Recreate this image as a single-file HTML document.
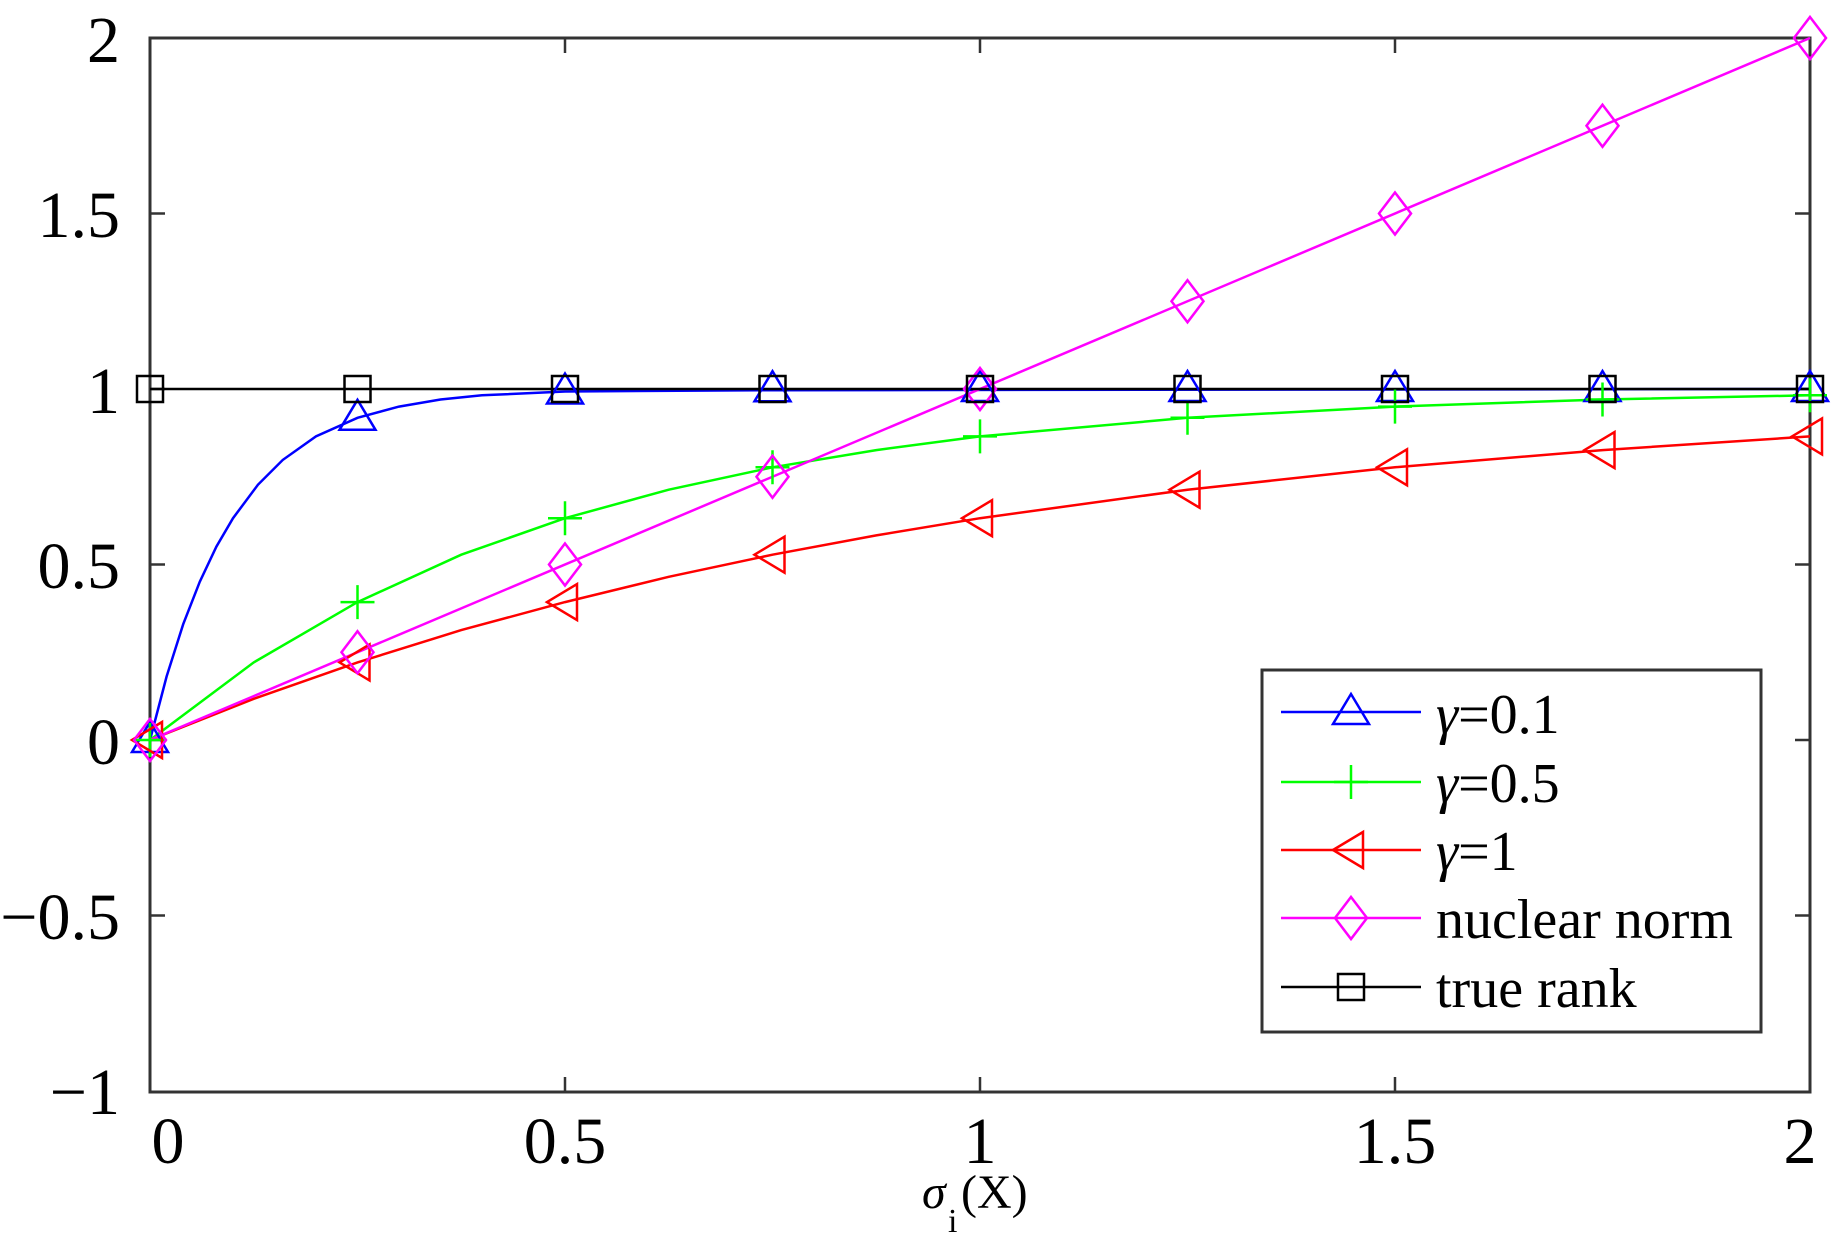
<!DOCTYPE html>
<html><head><meta charset="utf-8"><style>
html,body{margin:0;padding:0;background:#fff;}
svg{display:block;}
text{font-family:"Liberation Serif",serif;fill:#000;}
</style></head><body>
<svg width="1847" height="1252" viewBox="0 0 1847 1252" xmlns="http://www.w3.org/2000/svg">
<defs>
<g id="tri"><polygon points="0,-18 -18,12 18,12" fill="none" stroke="#0000ff" stroke-width="2.5"/></g>
<g id="ltri"><polygon points="-18,0 12,-18 12,18" fill="none" stroke="#ff0000" stroke-width="2.5"/></g>
<g id="dia"><polygon points="0,-21 16,0 0,21 -16,0" fill="none" stroke="#ff00ff" stroke-width="2.5"/></g>
<g id="sq"><rect x="-13" y="-13" width="26" height="26" fill="none" stroke="#000" stroke-width="2.5"/></g>
<g id="pl"><path d="M-17,0H17M0,-17V17" stroke="#00ff00" stroke-width="2.5"/></g>
</defs>
<!-- axes box -->
<rect x="150" y="38" width="1660" height="1054" fill="none" stroke="#333" stroke-width="3"/>
<g stroke="#333" stroke-width="2.5">
<path d="M565,1092v-15M980,1092v-15M1395,1092v-15M565,38v15M980,38v15M1395,38v15"/>
<path d="M150,213.5h15M150,389h15M150,564.5h15M150,740h15M150,915.5h15M1810,213.5h-15M1810,389h-15M1810,564.5h-15M1810,740h-15M1810,915.5h-15"/>
</g>
<!-- y labels -->
<g font-size="66" text-anchor="end">
<text x="120" y="62">2</text>
<text x="120" y="237">1.5</text>
<text x="120" y="413">1</text>
<text x="120" y="588">0.5</text>
<text x="120" y="764">0</text>
<text x="120" y="939">−0.5</text>
<text x="120" y="1114">−1</text>
</g>
<g font-size="66" text-anchor="middle">
<text x="168" y="1163">0</text>
<text x="565" y="1163">0.5</text>
<text x="980" y="1163">1</text>
<text x="1395" y="1163">1.5</text>
<text x="1800" y="1163">2</text>
</g>
<text x="922" y="1208" font-size="48" font-style="italic">σ</text>
<text x="948" y="1232" font-size="34">i</text>
<text x="961" y="1208" font-size="48">(X)</text>
<!-- series -->
<polyline fill="none" stroke="#0000ff" stroke-width="2.5" points="150,740 166.6,676.5 183.2,624.2 199.8,581.7 216.4,546.6 233,518.2 257.9,484.8 282.8,459.9 316,436.4 357.5,417.8 399,406.6 440.5,399.5 482,395.3 565,391.5 772.5,390.2 1810,389"/>
<polyline fill="none" stroke="#00ff00" stroke-width="2.5" points="150,740 253.75,662.4 357.5,602.1 461.25,554.7 565,518.2 668.75,489.7 772.5,467.3 876.25,450.1 980,436.4 1187.5,417.8 1395,406.6 1602.5,399.5 1810,395.3"/>
<polyline fill="none" stroke="#ff0000" stroke-width="2.5" points="150,740 253.75,698.8 357.5,662.4 461.25,630.1 565,602.1 668.75,576.8 772.5,554.7 876.25,535.4 980,518.2 1187.5,489.7 1395,467.3 1602.5,450.1 1810,436.4"/>
<polyline fill="none" stroke="#ff00ff" stroke-width="2.5" points="150,740 1810,38"/>
<polyline fill="none" stroke="#000" stroke-width="2.5" points="150,389 1810,389"/>
<use href="#tri" x="150" y="740"/><use href="#tri" x="357.5" y="417.8"/><use href="#tri" x="565" y="391.5"/><use href="#tri" x="772.5" y="389.2"/><use href="#tri" x="980" y="389"/><use href="#tri" x="1187.5" y="389"/><use href="#tri" x="1395" y="389"/><use href="#tri" x="1602.5" y="389"/><use href="#tri" x="1810" y="389"/>
<use href="#pl" x="150" y="740"/><use href="#pl" x="357.5" y="602.1"/><use href="#pl" x="565" y="518.2"/><use href="#pl" x="772.5" y="467.3"/><use href="#pl" x="980" y="436.4"/><use href="#pl" x="1187.5" y="417.8"/><use href="#pl" x="1395" y="406.6"/><use href="#pl" x="1602.5" y="399.5"/><use href="#pl" x="1810" y="395.3"/>
<use href="#ltri" x="150" y="740"/><use href="#ltri" x="357.5" y="662.4"/><use href="#ltri" x="565" y="602.1"/><use href="#ltri" x="772.5" y="554.7"/><use href="#ltri" x="980" y="518.2"/><use href="#ltri" x="1187.5" y="489.7"/><use href="#ltri" x="1395" y="467.3"/><use href="#ltri" x="1602.5" y="450.1"/><use href="#ltri" x="1810" y="436.4"/>
<use href="#dia" x="150" y="740"/><use href="#dia" x="357.5" y="652.25"/><use href="#dia" x="565" y="564.5"/><use href="#dia" x="772.5" y="476.75"/><use href="#dia" x="980" y="389"/><use href="#dia" x="1187.5" y="301.25"/><use href="#dia" x="1395" y="213.5"/><use href="#dia" x="1602.5" y="125.75"/><use href="#dia" x="1810" y="38"/>
<use href="#sq" x="150" y="389"/><use href="#sq" x="357.5" y="389"/><use href="#sq" x="565" y="389"/><use href="#sq" x="772.5" y="389"/><use href="#sq" x="980" y="389"/><use href="#sq" x="1187.5" y="389"/><use href="#sq" x="1395" y="389"/><use href="#sq" x="1602.5" y="389"/><use href="#sq" x="1810" y="389"/>
<!-- legend -->
<rect x="1262" y="670" width="499" height="362" fill="#fff" stroke="#333" stroke-width="3"/>
<g stroke-width="2.5">
<line x1="1281" y1="712" x2="1421" y2="712" stroke="#0000ff"/>
<line x1="1281" y1="782" x2="1421" y2="782" stroke="#00ff00"/>
<line x1="1281" y1="850" x2="1421" y2="850" stroke="#ff0000"/>
<line x1="1281" y1="918" x2="1421" y2="918" stroke="#ff00ff"/>
<line x1="1281" y1="987" x2="1421" y2="987" stroke="#000"/>
</g>
<use href="#tri" x="1351" y="712"/><use href="#pl" x="1351" y="782"/><use href="#ltri" x="1351" y="850"/><use href="#dia" x="1351" y="918"/><use href="#sq" x="1351" y="987"/>
<g font-size="56">
<text x="1436" y="733"><tspan font-style="italic">γ</tspan>=0.1</text>
<text x="1436" y="802"><tspan font-style="italic">γ</tspan>=0.5</text>
<text x="1436" y="870"><tspan font-style="italic">γ</tspan>=1</text>
<text x="1436" y="938">nuclear norm</text>
<text x="1436" y="1007">true rank</text>
</g>
</svg>
</body></html>
